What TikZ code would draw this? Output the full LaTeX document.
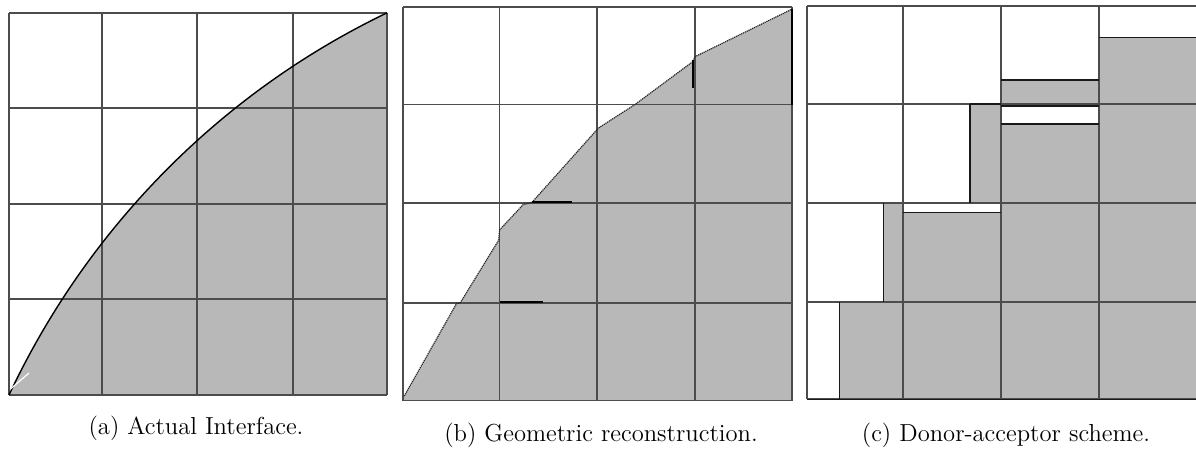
\documentclass[tikz,border=0pt]{standalone}
\usetikzlibrary{calc}
\begin{document}
\begin{tikzpicture}[x=0.5pt,y=-0.5pt]
\tikzset{
  gridline/.style={draw=black!70, line width=0.85pt},
  edgeline/.style={draw=black!90, line width=0.8pt},
  markseg/.style={draw=black, line width=1.1pt},
  thickedge/.style={draw=black, line width=1.2pt},
  grayfill/.style={fill=black!28},
  iface/.style={draw=black, line width=0.7pt},
  recon/.style={draw=black!85, line width=0.6pt, dash pattern=on 0.6pt off 0.4pt},
  captext/.style={font=\fontsize{12.3}{14}\selectfont, inner sep=0pt, anchor=base}
}
\useasboundingbox (0,0) rectangle (1196,450);
\fill[white] (0,0) rectangle (1196,450);

% ---------------- Panel (a) ----------------
\fill[grayfill] plot[domain=0:1, samples=80]
  ({9+378.3*\x}, {395-382.3*(-0.905+sqrt(4.448-(\x-1.905)^2))})
  -- (387.3,395) -- cycle;
\foreach \x in {9,101.7,197.3,292.7,387.3}
  \draw[gridline] (\x,12.7) -- (\x,395);
\foreach \y in {12.7,107.7,204,299.3,395}
  \draw[gridline] (9,\y) -- (387.3,\y);
\draw[iface] plot[domain=0:1, samples=80]
  ({9+378.3*\x}, {395-382.3*(-0.905+sqrt(4.448-(\x-1.905)^2))});
\draw[white, line width=0.6pt] (10.5,389) -- (29,373);

% ---------------- Panel (b) ----------------
\fill[grayfill] (404.3,396) -- (456.7,303.3) -- (460,303.3) -- (498.8,240)
  -- (499.5,230) -- (523.3,204.5) -- (531.7,202.7) -- (596.7,130)
  -- (599,127.7) -- (635,104.5) -- (692.7,61.7) -- (695,56.7)
  -- (791.7,9.3) -- (791.7,400.5) -- (403.3,400.5) -- cycle;
\foreach \x in {403.3,499.5,596.7,695,791.7}
  \draw[gridline] (\x,6.7) -- (\x,400.5);
\foreach \y in {6.7,104.5,202.7,303.3,400.5}
  \draw[gridline] (403.3,\y) -- (791.7,\y);
\draw[recon] (404.3,396) -- (456.7,303.3) -- (460,303.3) -- (498.8,240)
  -- (499.5,230) -- (523.3,204.5) -- (531.7,202.7) -- (596.7,130)
  -- (599,127.7) -- (635,104.5) -- (692.7,61.7) -- (695,56.7)
  -- (791.7,9.3);
\draw[markseg] (531.7,202.3) -- (572,202.3);
\draw[markseg] (500,302.3) -- (543.3,302.3);
\draw[markseg] (693.3,60) -- (693.3,88.3);
\draw[thickedge] (791.7,9.3) -- (791.7,104.5);

% ---------------- Panel (c) ----------------
\fill[grayfill] (839.3,301.7) rectangle (1196,399.3);
\fill[grayfill] (883.3,203.3) rectangle (903.3,301.7);
\fill[grayfill] (903.3,212.3) rectangle (1001.3,301.7);
\fill[grayfill] (1001.3,203.3) rectangle (1196,301.7);
\fill[grayfill] (970,104) rectangle (1001.3,203.3);
\fill[grayfill] (1001.3,124) rectangle (1099.3,203.3);
\fill[grayfill] (1099.3,104) rectangle (1196,203.3);
\fill[grayfill] (1001.3,80) rectangle (1099.3,104);
\fill[grayfill] (1099.3,37.3) rectangle (1196,104);
\foreach \x in {807.3,903.3,1001.3,1099.3}
  \draw[gridline] (\x,6) -- (\x,399.3);
\foreach \y in {6,104,203.3,301.7,399.3}
  \draw[gridline] (807.3,\y) -- (1196,\y);
\draw[edgeline] (839.3,301.7) -- (839.3,399.3);
\draw[edgeline] (883.3,203.3) -- (883.3,301.7);
\draw[edgeline] (970,104) -- (970,203.3);
\draw[edgeline] (970,104) -- (1001.3,104);
\draw[edgeline] (903.3,212.3) -- (1001.3,212.3);
\draw[edgeline] (1001.3,105.8) -- (1099.3,105.8);
\draw[edgeline] (1001.3,124) -- (1099.3,124);
\draw[edgeline] (1001.3,80) -- (1099.3,80);
\draw[edgeline] (1099.3,37.3) -- (1196,37.3);
\draw[edgeline] (807.3,399.3) -- (1196,399.3);

% ---------------- Captions ----------------
\node[captext] (capa) at (196,434) {(a) Actual Interface.};
\node[captext] (capb) at (601,441) {(b) Geometric reconstruction.};
\node[captext] (capc) at (1006,441) {(c) Donor-acceptor scheme.};
\end{tikzpicture}
\end{document}
